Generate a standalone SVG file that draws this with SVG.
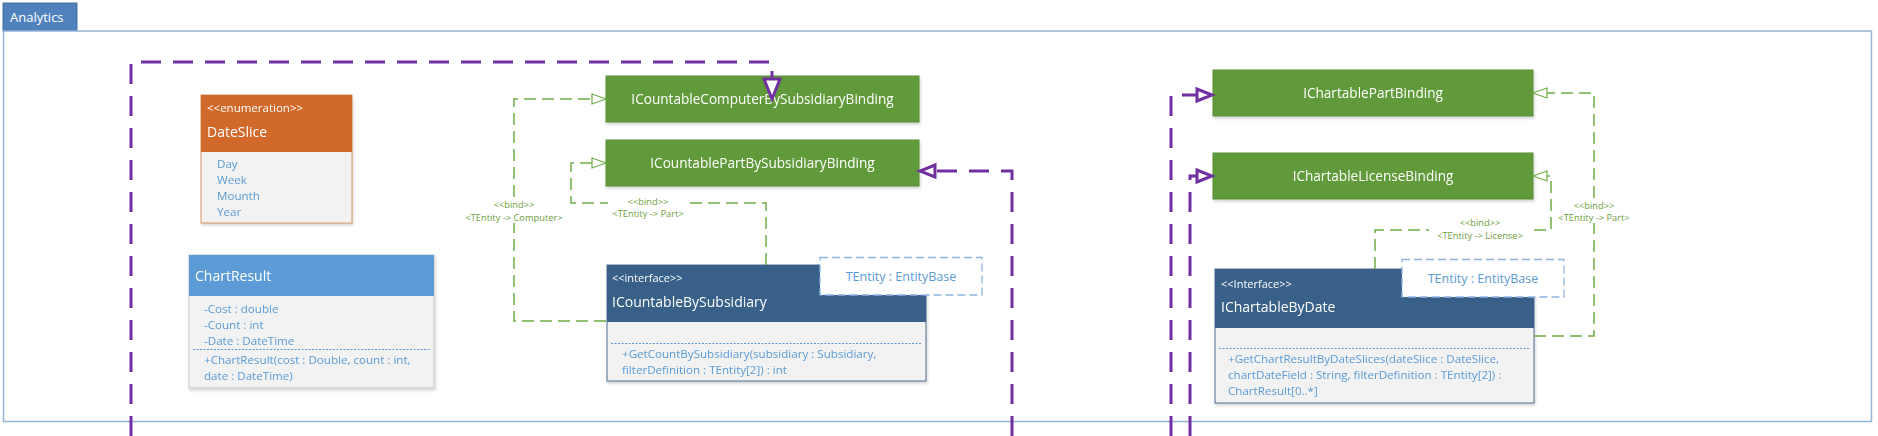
<svg xmlns="http://www.w3.org/2000/svg" width="1878" height="436" viewBox="0 0 1878 436">
<defs>
<filter id="sh" x="-5%" y="-5%" width="110%" height="120%">
<feDropShadow dx="1" dy="2" stdDeviation="1.5" flood-color="#000" flood-opacity="0.18"/>
</filter>
</defs>
<style>
text{font-family:"Open Sans","Noto Sans","Liberation Sans",sans-serif}
.body{fill:#F2F2F2}
.bt{fill:#5B9BD5;font-size:11.6px}
.wt{fill:#FFFFFF}
.green{fill:#619A3B;stroke:#5A8F36;stroke-width:1}
.gt{fill:#FFFFFF;font-size:13.6px;text-anchor:middle}
.iface{fill:#376088}
.sep{stroke:#5B9BD5;stroke-width:1;stroke-dasharray:2 1.5}
.tparam{fill:#FFFFFF;stroke:#8DB4E2;stroke-width:1.3;stroke-dasharray:8 4}
.tpt{fill:#5B9BD5;font-size:12.5px;text-anchor:middle}
.pl{fill:none;stroke:#7030A0;stroke-width:3;stroke-dasharray:20 12}
.pa{fill:#FFFFFF;stroke:#7030A0;stroke-width:3;stroke-linejoin:miter}
.gl{fill:none;stroke:#70AD47;stroke-width:1.5;stroke-dasharray:12 6}
.ga{fill:#FFFFFF;stroke:#70AD47;stroke-width:1.2}
.lbl{fill:#6E9E3A;font-size:9.3px;text-anchor:middle}
</style>

<g id="package-analytics">
<rect x="3" y="3" width="74" height="28" fill="#4F81BD" stroke="#41719C" stroke-width="1"/>
<text x="10" y="22" class="wt" font-size="13">Analytics</text>
<rect x="3.5" y="31" width="1868" height="390.5" fill="#FFFFFF" stroke="#95B3D7" stroke-width="1.5"/>
</g>

<g id="DateSlice" filter="url(#sh)">
<rect x="201" y="95" width="151" height="128" class="body" stroke="#C55A11" stroke-width="1" stroke-opacity="0.6"/>
<rect x="201" y="95" width="151" height="57" fill="#D0692B"/>
<text x="207" y="112" class="wt" font-size="11.5">&lt;&lt;enumeration&gt;&gt;</text>
<text x="207" y="137" class="wt" font-size="14">DateSlice</text>
<text x="217" y="168" class="bt">Day</text>
<text x="217" y="184" class="bt">Week</text>
<text x="217" y="200" class="bt">Mounth</text>
<text x="217" y="216" class="bt">Year</text>
</g>

<g id="ChartResult" filter="url(#sh)">
<rect x="189" y="255" width="245" height="133" class="body" stroke="#C9C9C9" stroke-width="1"/>
<rect x="189" y="255" width="245" height="41" fill="#5B9BD5"/>
<text x="195" y="281" class="wt" font-size="14">ChartResult</text>
<text x="204" y="313" class="bt">-Cost : double</text>
<text x="204" y="329" class="bt">-Count : int</text>
<text x="204" y="345" class="bt">-Date : DateTime</text>
<line x1="193" y1="349.5" x2="431" y2="349.5" class="sep"/>
<text x="204" y="364" class="bt">+ChartResult(cost : Double, count : int,</text>
<text x="204" y="380" class="bt">date : DateTime)</text>
</g>

<g id="ICountableComputerBySubsidiaryBinding" filter="url(#sh)">
<rect x="606" y="76" width="313" height="46" class="green"/>
<text x="762.5" y="104" class="gt">ICountableComputerBySubsidiaryBinding</text>
</g>

<g id="ICountablePartBySubsidiaryBinding" filter="url(#sh)">
<rect x="606" y="140" width="313" height="46" class="green"/>
<text x="762.5" y="168" class="gt">ICountablePartBySubsidiaryBinding</text>
</g>

<g id="ICountableBySubsidiary" filter="url(#sh)">
<rect x="607" y="265" width="319" height="116" class="body" stroke="#4F6F91" stroke-width="1"/>
<rect x="607" y="265" width="319" height="57" class="iface"/>
<text x="612" y="282" class="wt" font-size="11">&lt;&lt;interface&gt;&gt;</text>
<text x="612" y="307" class="wt" font-size="14">ICountableBySubsidiary</text>
<line x1="611" y1="343.5" x2="922" y2="343.5" class="sep"/>
<text x="622" y="358" class="bt">+GetCountBySubsidiary(subsidiary : Subsidiary,</text>
<text x="622" y="374" class="bt">filterDefinition : TEntity[2]) : int</text>
</g>

<g id="ICountableBySubsidiary-tparam">
<rect x="820" y="257.5" width="162" height="37.5" class="tparam"/>
<text x="901" y="281" class="tpt">TEntity : EntityBase</text>
</g>

<g id="IChartablePartBinding" filter="url(#sh)">
<rect x="1213" y="70" width="320" height="46" class="green"/>
<text x="1373" y="98" class="gt">IChartablePartBinding</text>
</g>

<g id="IChartableLicenseBinding" filter="url(#sh)">
<rect x="1213" y="153" width="320" height="46" class="green"/>
<text x="1373" y="181" class="gt">IChartableLicenseBinding</text>
</g>

<g id="IChartableByDate" filter="url(#sh)">
<rect x="1215" y="269" width="319" height="134" class="body" stroke="#4F6F91" stroke-width="1"/>
<rect x="1215" y="269" width="319" height="59" class="iface"/>
<text x="1221" y="288" class="wt" font-size="11">&lt;&lt;Interface&gt;&gt;</text>
<text x="1221" y="312" class="wt" font-size="14">IChartableByDate</text>
<line x1="1219" y1="348.5" x2="1530" y2="348.5" class="sep"/>
<text x="1228" y="363" class="bt">+GetChartResultByDateSlices(dateSlice : DateSlice,</text>
<text x="1228" y="379" class="bt">chartDateField : String, filterDefinition : TEntity[2]) :</text>
<text x="1228" y="395" class="bt">ChartResult[0..*]</text>
</g>

<g id="IChartableByDate-tparam">
<rect x="1402" y="259.5" width="162" height="37.5" class="tparam"/>
<text x="1483" y="283" class="tpt">TEntity : EntityBase</text>
</g>

<g id="connectors">
<path class="pl" d="M131,436 V62 H772 V96"/>
<polygon class="pa" points="764,79 780,79 772,99"/>
<path class="pl" d="M1012,436 V171 H935"/>
<polygon class="pa" points="935,165 935,177 920,171"/>
<path class="pl" d="M1171,436 V95 H1197"/>
<polygon class="pa" points="1197,89 1197,101 1212,95"/>
<path class="pl" d="M1190,436 V176 H1197"/>
<polygon class="pa" points="1197,170 1197,182 1212,176"/>

<path class="gl" d="M606,321 H514 V99 H592"/>
<polygon class="ga" points="592,94 592,104 606,99"/>
<rect x="462" y="199" width="104" height="24" fill="#FFFFFF"/>
<text x="514" y="208" class="lbl">&lt;&lt;bind&gt;&gt;</text>
<text x="514" y="221" class="lbl">&lt;TEntity -&gt; Computer&gt;</text>

<path class="gl" d="M766,265 V203 H571 V163 H592"/>
<polygon class="ga" points="592,158 592,168 606,163"/>
<rect x="608" y="196" width="80" height="24" fill="#FFFFFF"/>
<text x="648" y="205" class="lbl">&lt;&lt;bind&gt;&gt;</text>
<text x="648" y="217" class="lbl">&lt;TEntity -&gt; Part&gt;</text>

<path class="gl" d="M1534,336 H1594 V93 H1547"/>
<polygon class="ga" points="1547,88 1547,98 1533,93"/>
<rect x="1555" y="199" width="78" height="24" fill="#FFFFFF"/>
<text x="1594" y="209" class="lbl">&lt;&lt;bind&gt;&gt;</text>
<text x="1594" y="221" class="lbl">&lt;TEntity -&gt; Part&gt;</text>

<path class="gl" d="M1375,269 V230 H1551 V176 H1547"/>
<polygon class="ga" points="1547,171 1547,181 1533,176"/>
<rect x="1429" y="216" width="102" height="25" fill="#FFFFFF"/>
<text x="1480" y="226" class="lbl">&lt;&lt;bind&gt;&gt;</text>
<text x="1480" y="239" class="lbl">&lt;TEntity -&gt; License&gt;</text>
</g>
</svg>
